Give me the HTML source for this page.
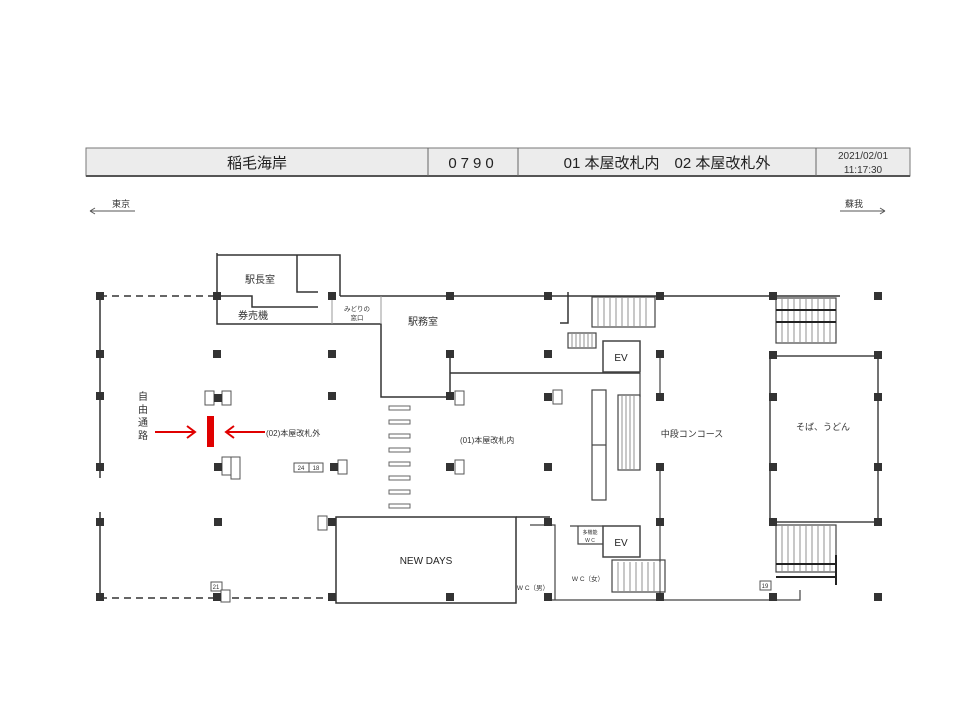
<!DOCTYPE html>
<html><head><meta charset="utf-8"><style>
html,body{margin:0;padding:0;background:#fff;}
svg{display:block;font-family:"Liberation Sans","Noto Sans CJK JP",sans-serif;}
</style></head><body>
<svg width="960" height="720" viewBox="0 0 960 720" xmlns="http://www.w3.org/2000/svg">
<!-- header -->
<rect x="86" y="148" width="824" height="28" fill="#ececec" stroke="#777" stroke-width="1"/>
<line x1="86" y1="176" x2="910" y2="176" stroke="#555" stroke-width="2"/>
<line x1="428" y1="148" x2="428" y2="176" stroke="#666"/>
<line x1="518" y1="148" x2="518" y2="176" stroke="#666"/>
<line x1="816" y1="148" x2="816" y2="176" stroke="#666"/>
<text x="257" y="168" font-size="15" text-anchor="middle" fill="#222">稲毛海岸</text>
<text x="473" y="168" font-size="15" text-anchor="middle" fill="#222" letter-spacing="4">0790</text>
<text x="667" y="168" font-size="15" text-anchor="middle" fill="#222">01 本屋改札内　02 本屋改札外</text>
<text x="863" y="159" font-size="10" text-anchor="middle" fill="#333">2021/02/01</text>
<text x="863" y="173" font-size="10" text-anchor="middle" fill="#333">11:17:30</text>
<!-- direction -->
<text x="112" y="207" font-size="9" fill="#333">東京</text>
<path d="M90 211 H135 M90 211 l5 -3 M90 211 l5 3" stroke="#555" fill="none"/>
<text x="845" y="207" font-size="9" fill="#333">蘇我</text>
<path d="M840 211 H885 M885 211 l-5 -3 M885 211 l-5 3" stroke="#555" fill="none"/>

<g stroke="#333" stroke-width="1.5" fill="none">
<!-- outer dashed -->
<path d="M100 296 H217" stroke-dasharray="7,5"/>
<path d="M100 598 H332" stroke-dasharray="7,5"/>
<path d="M100 296 V478 M100 512 V598"/>
<!-- top rooms -->
<path d="M217 253 V324 H381 V397 H450"/>
<path d="M217 255 H340 V296"/>
<path d="M297 255 V292 H318"/>
<path d="M217 296 H252 V307 H318"/>
<path d="M340 296 H840"/>
<path d="M450 354 V397"/>
<path d="M450 373 H640"/>
<path d="M568 292 V323 H560"/>
<!-- NEW DAYS -->
<rect x="336" y="517" width="180" height="86"/>
<path d="M516 517 H550"/>
</g>
<line x1="332" y1="296" x2="332" y2="324" stroke="#999"/>
<line x1="381" y1="296" x2="381" y2="324" stroke="#999"/>
<text x="260" y="283" font-size="10" text-anchor="middle" fill="#333">駅長室</text>
<text x="253" y="319" font-size="10" text-anchor="middle" fill="#333">券売機</text>
<text x="357" y="311" font-size="6.5" text-anchor="middle" fill="#333">みどりの</text>
<text x="357" y="320" font-size="6.5" text-anchor="middle" fill="#333">窓口</text>
<text x="423" y="325" font-size="10" text-anchor="middle" fill="#333">駅務室</text>
<text x="426" y="564" font-size="10" text-anchor="middle" fill="#222">NEW DAYS</text>
<g font-size="10" fill="#333" text-anchor="middle">
<text x="143" y="400">自</text><text x="143" y="413">由</text><text x="143" y="426">通</text><text x="143" y="439">路</text>
</g>
<text x="266" y="436" font-size="8" fill="#333">(02)本屋改札外</text>
<text x="460" y="443" font-size="8" fill="#333">(01)本屋改札内</text>
<text x="692" y="437" font-size="9" text-anchor="middle" fill="#333">中段コンコース</text>
<text x="823" y="430" font-size="9" text-anchor="middle" fill="#333">そば、うどん</text>
<text x="533" y="590" font-size="6.5" text-anchor="middle" fill="#333">W C（男）</text>
<text x="588" y="581" font-size="6.5" text-anchor="middle" fill="#333">W C（女）</text>

<!-- gates -->
<g fill="#fff" stroke="#666" stroke-width="1">
<rect x="389" y="406" width="21" height="4"/><rect x="389" y="420" width="21" height="4"/>
<rect x="389" y="434" width="21" height="4"/><rect x="389" y="448" width="21" height="4"/>
<rect x="389" y="462" width="21" height="4"/><rect x="389" y="476" width="21" height="4"/>
<rect x="389" y="490" width="21" height="4"/><rect x="389" y="504" width="21" height="4"/>
</g>

<!-- right side structure -->
<g stroke="#444" stroke-width="1.2" fill="none">
<path d="M640 373 V397"/>
<rect x="603" y="341" width="37" height="31" stroke-width="1.5"/>
<rect x="603" y="526" width="37" height="31" stroke-width="1.5"/>
<path d="M660 355 V397 M660 466 V600"/>
<path d="M530 525 H555 V600 M570 526 H603 M578 526 V544 H603"/>
<path d="M550 600 H800 V590"/>
<rect x="770" y="356" width="108" height="166" stroke-width="1.5"/>
<!-- stairs top -->
<rect x="592" y="297" width="63" height="30"/>
<rect x="568" y="333" width="28" height="15"/>
<rect x="618" y="395" width="22" height="75"/>
<rect x="612" y="560" width="53" height="32"/>
<rect x="776" y="298" width="60" height="45"/>
<rect x="776" y="525" width="60" height="47"/>
<rect x="592" y="390" width="14" height="110"/>
<line x1="592" y1="445" x2="606" y2="445"/>
</g>
<g stroke="#777" stroke-width="0.8">
<path d="M598 298 V326 M604 298 V326 M610 298 V326 M616 298 V326 M622 298 V326 M628 298 V326 M634 298 V326 M640 298 V326 M646 298 V326"/>
<path d="M572 334 V347 M576 334 V347 M580 334 V347 M584 334 V347 M588 334 V347 M592 334 V347"/>
<path d="M622 396 V469 M626 396 V469 M630 396 V469 M634 396 V469"/>
<path d="M618 562 V591 M624 562 V591 M630 562 V591 M636 562 V591 M642 562 V591 M648 562 V591 M654 562 V591 M660 562 V591"/>
<path d="M782 299 V342 M788 299 V342 M794 299 V342 M800 299 V342 M806 299 V342 M812 299 V342 M818 299 V342 M824 299 V342 M830 299 V342"/>
<path d="M782 526 V571 M788 526 V571 M794 526 V571 M800 526 V571 M806 526 V571 M812 526 V571 M818 526 V571 M824 526 V571 M830 526 V571"/>
</g>
<g stroke="#222" stroke-width="2">
<path d="M776 310 H836 M776 322 H836"/>
<path d="M776 564 H836 M776 577 H836 M836 555 V585"/>
</g>
<text x="621" y="361" font-size="10" text-anchor="middle" fill="#222">EV</text>
<text x="621" y="546" font-size="10" text-anchor="middle" fill="#222">EV</text>
<text x="590" y="534" font-size="5" text-anchor="middle" fill="#333">多機能</text>
<text x="590" y="542" font-size="5" text-anchor="middle" fill="#333">W C</text>

<!-- small number tags -->
<g fill="#fff" stroke="#555" stroke-width="1">
<rect x="205" y="391" width="9" height="14"/><rect x="222" y="391" width="9" height="14"/>
<rect x="222" y="457" width="9" height="18"/><rect x="231" y="457" width="9" height="22"/>
<rect x="294" y="463" width="15" height="9"/><rect x="309" y="463" width="14" height="9"/>
<rect x="338" y="460" width="9" height="14"/>
<rect x="455" y="391" width="9" height="14"/><rect x="455" y="460" width="9" height="14"/>
<rect x="553" y="390" width="9" height="14"/>
<rect x="318" y="516" width="9" height="14"/>
<rect x="211" y="582" width="11" height="9"/><rect x="221" y="590" width="9" height="12"/>
<rect x="760" y="581" width="11" height="9"/>
</g>
<g font-size="6" fill="#333" text-anchor="middle">
<text x="301" y="470">24</text><text x="316" y="470">18</text><text x="216" y="589">21</text><text x="765" y="588">19</text>
</g>

<!-- columns -->
<g fill="#333">
<rect x="96" y="292" width="8" height="8"/><rect x="213" y="292" width="8" height="8"/><rect x="328" y="292" width="8" height="8"/><rect x="446" y="292" width="8" height="8"/><rect x="544" y="292" width="8" height="8"/><rect x="656" y="292" width="8" height="8"/><rect x="769" y="292" width="8" height="8"/><rect x="874" y="292" width="8" height="8"/>
<rect x="96" y="350" width="8" height="8"/><rect x="213" y="350" width="8" height="8"/><rect x="328" y="350" width="8" height="8"/><rect x="446" y="350" width="8" height="8"/><rect x="544" y="350" width="8" height="8"/><rect x="656" y="350" width="8" height="8"/><rect x="769" y="351" width="8" height="8"/><rect x="874" y="351" width="8" height="8"/>
<rect x="96" y="392" width="8" height="8"/><rect x="214" y="394" width="8" height="8"/><rect x="328" y="392" width="8" height="8"/><rect x="446" y="392" width="8" height="8"/><rect x="544" y="393" width="8" height="8"/><rect x="656" y="393" width="8" height="8"/><rect x="769" y="393" width="8" height="8"/><rect x="874" y="393" width="8" height="8"/>
<rect x="96" y="463" width="8" height="8"/><rect x="214" y="463" width="8" height="8"/><rect x="330" y="463" width="8" height="8"/><rect x="446" y="463" width="8" height="8"/><rect x="544" y="463" width="8" height="8"/><rect x="656" y="463" width="8" height="8"/><rect x="769" y="463" width="8" height="8"/><rect x="874" y="463" width="8" height="8"/>
<rect x="96" y="518" width="8" height="8"/><rect x="214" y="518" width="8" height="8"/><rect x="328" y="518" width="8" height="8"/><rect x="544" y="518" width="8" height="8"/><rect x="656" y="518" width="8" height="8"/><rect x="769" y="518" width="8" height="8"/><rect x="874" y="518" width="8" height="8"/>
<rect x="96" y="593" width="8" height="8"/><rect x="213" y="593" width="8" height="8"/><rect x="328" y="593" width="8" height="8"/><rect x="446" y="593" width="8" height="8"/><rect x="544" y="593" width="8" height="8"/><rect x="656" y="593" width="8" height="8"/><rect x="769" y="593" width="8" height="8"/><rect x="874" y="593" width="8" height="8"/>
</g>

<!-- red barrier and arrows -->
<rect x="207" y="416" width="7" height="31" fill="#e00000"/>
<g stroke="#e00000" stroke-width="2" fill="none">
<path d="M155 432 H195 M187 426 L195 432 L187 438"/>
<path d="M265 432 H226 M234 426 L226 432 L234 438"/>
</g>
</svg>
</body></html>
